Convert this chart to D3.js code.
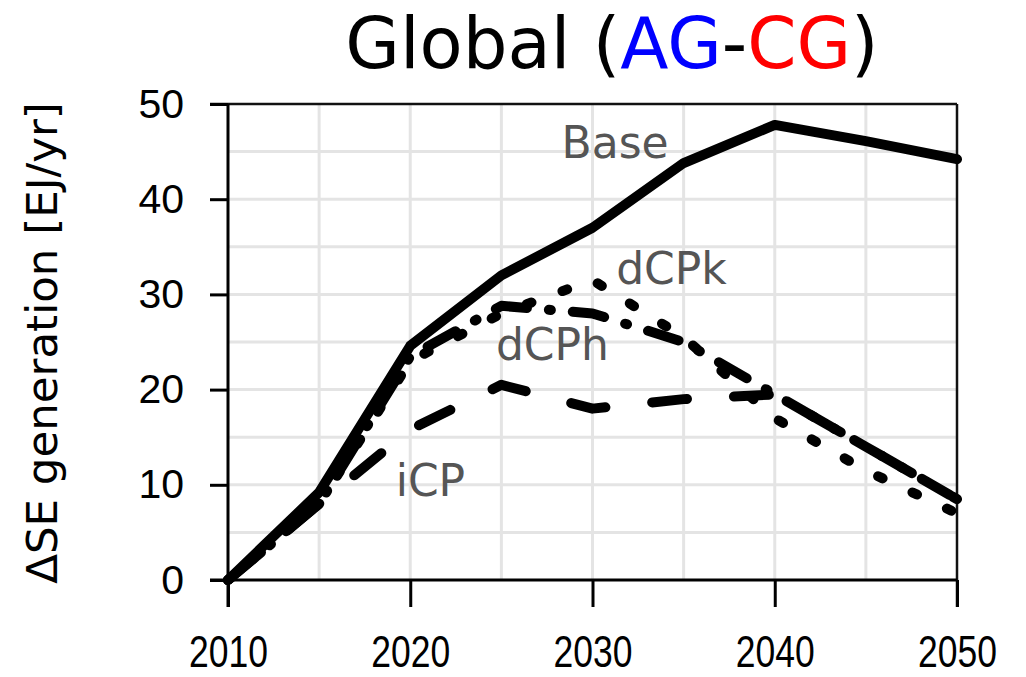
<!DOCTYPE html>
<html><head><meta charset="utf-8">
<script src="https://cdn.jsdelivr.net/npm/d3@7"></script>
<style>body{margin:0;background:#fff}svg{display:block}</style>
</head><body>
<svg id="c" width="1026" height="677"></svg>
<script>
const years = [2010, 2015, 2020, 2025, 2030, 2035, 2040, 2045, 2050];
const baseVals = [0, 9.2, 24.6, 32, 37, 43.8, 47.8, 46.1, 44.2];
const dCPkVals = [0, 8, 23, 28, 31.5, 25.5, 17, 11.5, 7];
const dCPhVals = [0, 8, 23.5, 28.8, 28, 25, 19.5, 14, 8.5];
const iCPVals  = [0, 8, 15.8, 20.5, 18, 19, 19.5, 14, 8.5];
const xTicks = [2010, 2020, 2030, 2040, 2050];
const yTicks = [0, 10, 20, 30, 40, 50];
const gridX = [2015, 2020, 2025, 2030, 2035, 2040, 2045];
const gridY = [5, 10, 15, 20, 25, 30, 35, 40, 45];

const svg = d3.select("#c");
const x = d3.scaleLinear().domain([2010, 2050]).range([228, 957]);
const y = d3.scaleLinear().domain([0, 50]).range([580, 104]);

// grid
svg.append("g").selectAll("line").data(gridX).join("line")
  .attr("x1", d => x(d)).attr("x2", d => x(d)).attr("y1", y(50)).attr("y2", y(0))
  .attr("stroke", "#e4e4e4").attr("stroke-width", 3);
svg.append("g").selectAll("line").data(gridY).join("line")
  .attr("x1", x(2010)).attr("x2", x(2050)).attr("y1", d => y(d)).attr("y2", d => y(d))
  .attr("stroke", "#e4e4e4").attr("stroke-width", 3);

// frame top/right
svg.append("line").attr("x1", 210).attr("x2", x(2050)).attr("y1", y(50)).attr("y2", y(50))
  .attr("stroke", "#111").attr("stroke-width", 2.5);
svg.append("line").attr("x1", x(2050)).attr("x2", x(2050)).attr("y1", y(50)).attr("y2", 607)
  .attr("stroke", "#111").attr("stroke-width", 2.5);

// axes
const yAxis = d3.axisLeft(y).tickValues(yTicks).tickSize(18).tickSizeOuter(0).tickPadding(26);
const gy = svg.append("g").attr("transform", `translate(${x(2010)},0)`).call(yAxis);
gy.select(".domain").remove();
gy.selectAll(".tick line").attr("stroke", "#000").attr("stroke-width", 3);
gy.selectAll(".tick text").attr("font-family", "Liberation Sans, Arial, sans-serif")
  .attr("font-size", 41).attr("fill", "#000");
svg.append("line").attr("x1", x(2010)).attr("x2", x(2010)).attr("y1", y(50)).attr("y2", 607)
  .attr("stroke", "#000").attr("stroke-width", 3);

const xAxis = d3.axisBottom(x).tickValues(xTicks).tickFormat(d3.format("d")).tickSize(27).tickSizeOuter(0).tickPadding(30);
const gx = svg.append("g").attr("transform", `translate(0,${y(0)})`).call(xAxis);
gx.select(".domain").remove();
gx.selectAll(".tick line").attr("stroke", "#000").attr("stroke-width", 3);
gx.selectAll(".tick text")
  .attr("y", 87).attr("dy", null)
  .attr("font-family", "Liberation Sans, Arial, sans-serif")
  .attr("font-size", 44).attr("fill", "#000")
  .attr("textLength", 79).attr("lengthAdjust", "spacingAndGlyphs");
svg.append("line").attr("x1", 210).attr("x2", x(2050)).attr("y1", y(0)).attr("y2", y(0))
  .attr("stroke", "#000").attr("stroke-width", 3);

// lines
const line = d3.line().x((d, i) => x(years[i])).y(d => y(d));
const series = [
  {vals: iCPVals, dash: "35,47"},
  {vals: dCPhVals, dash: "32,22,2,22"},
  {vals: dCPkVals, dash: "5,33"},
  {vals: baseVals, dash: null}
];
series.forEach(s => {
  svg.append("path").datum(s.vals).attr("d", line)
    .attr("fill", "none").attr("stroke", "#000").attr("stroke-width", 10)
    .attr("stroke-linecap", "round").attr("stroke-linejoin", "round")
    .attr("stroke-dasharray", s.dash);
});

// series labels
const labels = [
  {t: "Base", yr: 2028.3, v: 44.3},
  {t: "dCPk", yr: 2031.3, v: 31.1},
  {t: "dCPh", yr: 2024.7, v: 23.1},
  {t: "iCP", yr: 2019.2, v: 8.8}
];
svg.append("g").selectAll("text").data(labels).join("text")
  .attr("x", d => x(d.yr)).attr("y", d => y(d.v))
  .attr("font-family", "DejaVu Sans, sans-serif").attr("font-size", 44).attr("fill", "#555")
  .text(d => d.t);

// title
const title = svg.append("text").attr("x", 612).attr("y", 68).attr("text-anchor", "middle")
  .attr("font-family", "DejaVu Sans, sans-serif").attr("font-size", 70.5);
title.append("tspan").attr("fill", "#000").text("Global (");
title.append("tspan").attr("fill", "#0000ff").text("AG");
title.append("tspan").attr("fill", "#000").text("-");
title.append("tspan").attr("fill", "#ff0000").text("CG");
title.append("tspan").attr("fill", "#000").text(")");

// y axis title
svg.append("text").attr("transform", "translate(57,343) rotate(-90)").attr("text-anchor", "middle")
  .attr("font-family", "DejaVu Sans, sans-serif").attr("font-size", 43.5).attr("fill", "#000")
  .text("ΔSE generation [EJ/yr]");
</script>
</body></html>
